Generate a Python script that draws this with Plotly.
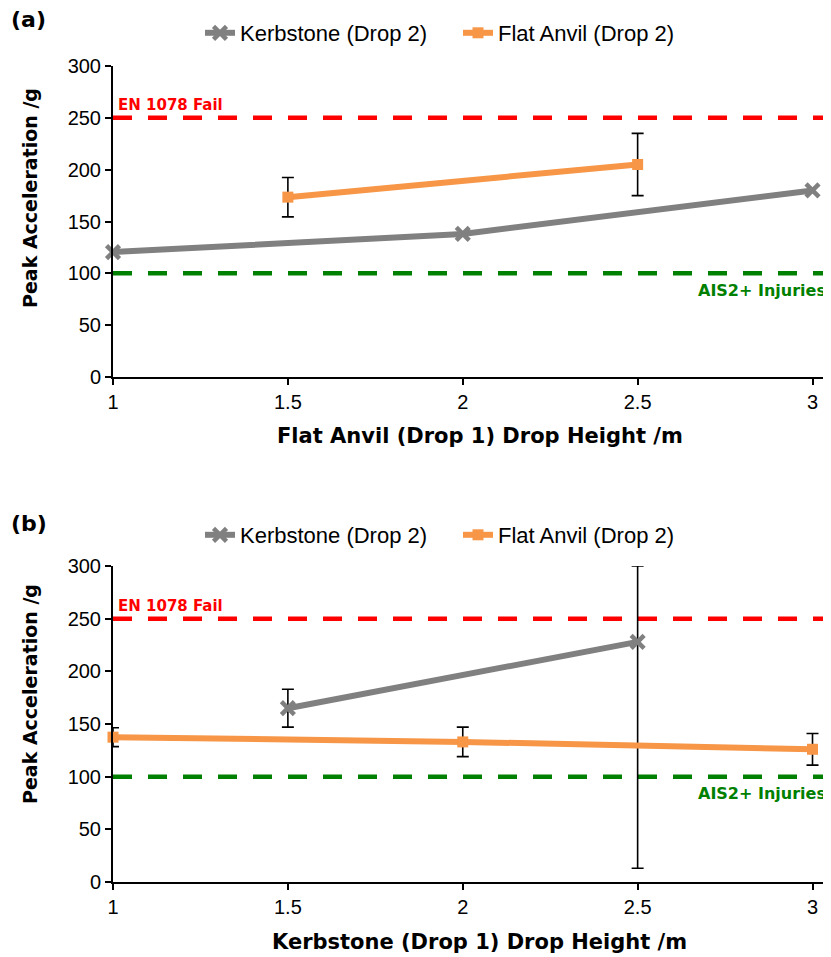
import numpy as np
import plotly.graph_objects as go

# ---- data ----
tick_vals = [1, 1.5, 2, 2.5, 3]
y_ticks = [0, 50, 100, 150, 200, 250, 300]

# Panel (a): Flat Anvil (Drop 1)
a_kerb_x = [1, 2, 3]
a_kerb_y = [120.5, 138, 180]
a_flat_x = [1.5, 2.5]
a_flat_y = [173.5, 205]
a_flat_err = [19, 30]

# Panel (b): Kerbstone (Drop 1)
b_kerb_x = [1.5, 2.5]
b_kerb_y = [165, 228]
b_kerb_err = [18, 215]
b_flat_x = [1, 2, 3]
b_flat_y = [137.5, 133, 126]
b_flat_err = [9, 14, 15]

EN1078 = 250
AIS2 = 100
YMAX = 300

GRAY = "#808080"
ORANGE = "#F79646"

W, H = 831, 957
OFF = 8                      # default page body margin
FW, FH = W - OFF, H - OFF
L = 113 - OFF
PLOT_W = 717
R = FW - L - PLOT_W


def py(p):
    return 1 - (p - OFF) / FH


def px(p):
    return (p - OFF - L) / PLOT_W


fig = go.Figure()


def err(y, e):
    y = np.array(y, float)
    e = np.array(e, float)
    return dict(type="data", symmetric=False, array=np.minimum(e, YMAX - y).tolist(),
                arrayminus=e.tolist(), color="black", thickness=1.6, width=6)


def add_panel(xa, ya, kx, ky, ke, fx, fy, fe, legend):
    fig.add_trace(go.Scatter(
        x=kx, y=ky, mode="lines+markers", name="Kerbstone (Drop 2)",
        line=dict(color=GRAY, width=6),
        marker=dict(symbol="x-thin", size=13, line=dict(width=4.5, color=GRAY), color=GRAY),
        error_y=err(ky, ke) if ke is not None else None,
        xaxis=xa, yaxis=ya, legend=legend, cliponaxis=False))
    fig.add_trace(go.Scatter(
        x=fx, y=fy, mode="lines+markers", name="Flat Anvil (Drop 2)",
        line=dict(color=ORANGE, width=6),
        marker=dict(symbol="square", size=11, color=ORANGE),
        error_y=err(fy, fe),
        xaxis=xa, yaxis=ya, legend=legend, cliponaxis=False))


add_panel("x", "y", a_kerb_x, a_kerb_y, None, a_flat_x, a_flat_y, a_flat_err, "legend")
add_panel("x2", "y2", b_kerb_x, b_kerb_y, b_kerb_err, b_flat_x, b_flat_y, b_flat_err, "legend2")

# reference lines
for xr, yr in [("x", "y"), ("x2", "y2")]:
    for val, col in [(EN1078, "#FF0000"), (AIS2, "#008000")]:
        fig.add_shape(type="line", xref=f"{xr} domain", yref=yr, x0=0, x1=1, y0=val, y1=val,
                      line=dict(color=col, width=4.5, dash="19px,16px"), layer="below")

bold = "DejaVu Sans"
arial = "Liberation Sans, Arial"

axis_common = dict(
    showline=True, linecolor="black", linewidth=2, ticks="outside", ticklen=6,
    tickwidth=2, tickcolor="black", showgrid=False, zeroline=False,
    tickfont=dict(family=arial, size=20, color="black"),
)

dom_a = [py(377), py(66)]
dom_b = [py(882), py(566)]

leg_common = dict(orientation="h", xanchor="left", yanchor="middle",
                  font=dict(family=arial, size=22, color="black"), bgcolor="rgba(0,0,0,0)",
                  entrywidth=213, entrywidthmode="pixels", borderwidth=0)

fig.update_layout(
    width=FW, height=FH, paper_bgcolor="white", plot_bgcolor="white",
    margin=dict(l=L, r=R, t=0, b=0, autoexpand=False),
    xaxis=dict(domain=[0, 1], range=[1, 3.05], tickvals=tick_vals, anchor="y", **axis_common),
    yaxis=dict(domain=dom_a, range=[0, YMAX], tickvals=y_ticks, anchor="x", **axis_common),
    xaxis2=dict(domain=[0, 1], range=[1, 3.05], tickvals=tick_vals, anchor="y2", **axis_common),
    yaxis2=dict(domain=dom_b, range=[0, YMAX], tickvals=y_ticks, anchor="x2", **axis_common),
    legend=dict(x=px(200), y=py(33), **leg_common),
    legend2=dict(x=px(200), y=py(535), **leg_common),
    showlegend=True,
)

ann = []
for lab, ycen in [("(a)", 20), ("(b)", 523)]:
    ann.append(dict(text=f"<b>{lab}</b>", xref="paper", yref="paper", x=px(9),
                    y=py(ycen), xanchor="left", yanchor="middle", showarrow=False,
                    font=dict(family=bold, size=22, color="black")))
for ycen in [198, 694]:
    ann.append(dict(text="<b>Peak Acceleration /g</b>", xref="paper", yref="paper", x=px(30),
                    y=py(ycen), xanchor="center", yanchor="middle", textangle=-90,
                    showarrow=False, font=dict(family=bold, size=19, color="black")))
for txt, ycen in [("Flat Anvil (Drop 1) Drop Height /m", 436), ("Kerbstone (Drop 1) Drop Height /m", 942)]:
    ann.append(dict(text=f"<b>{txt}</b>", xref="paper", yref="paper", x=px(480),
                    y=py(ycen), xanchor="center", yanchor="middle", showarrow=False,
                    font=dict(family=bold, size=21, color="black")))
for xr, yr in [("x", "y"), ("x2", "y2")]:
    ann.append(dict(text="<b>EN 1078 Fail</b>", xref=f"{xr} domain", yref=yr, x=0, xshift=3,
                    y=EN1078, yshift=13, xanchor="left", yanchor="middle", showarrow=False,
                    font=dict(family=bold, size=15, color="#FF0000")))
    ann.append(dict(text="<b>AIS2+ Injuries</b>", xref=f"{xr} domain", yref=yr, x=1, xshift=-2,
                    y=AIS2, yshift=-17, xanchor="right", yanchor="middle", showarrow=False,
                    font=dict(family=bold, size=16, color="#008000")))
fig.update_layout(annotations=ann)

fig.write_html("out.html")
